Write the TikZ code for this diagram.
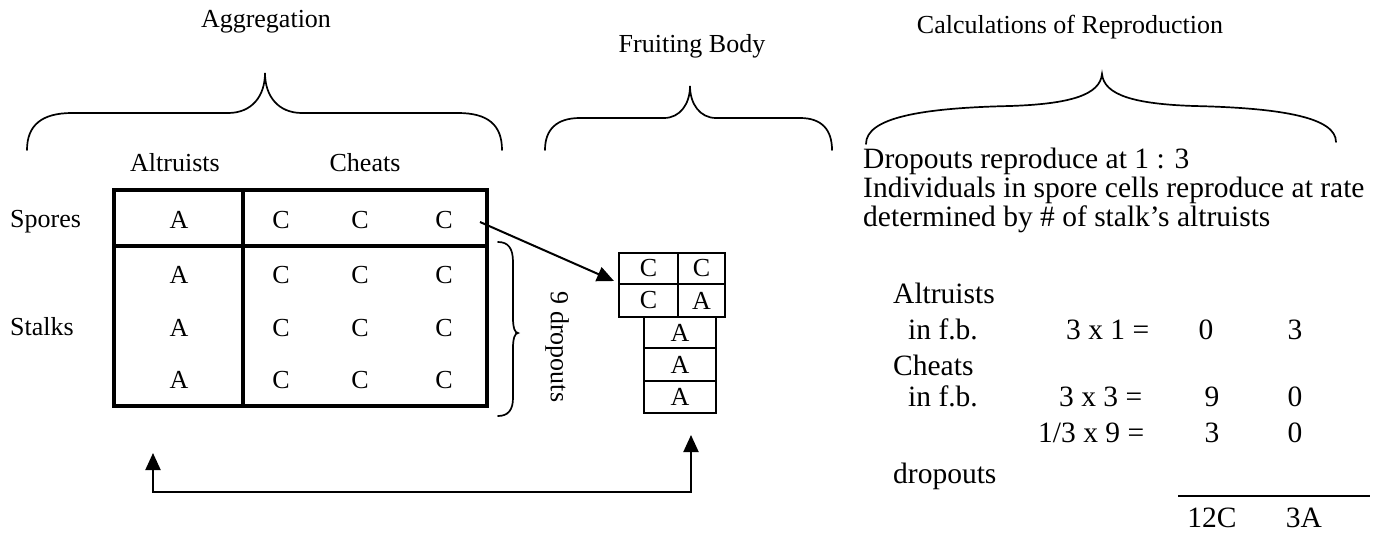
\documentclass[tikz,border=0pt]{standalone}
\usepackage{fontspec}
\setmainfont{Liberation Serif}
\usetikzlibrary{arrows.meta}
\begin{document}
\begin{tikzpicture}[x=1pt,y=-1pt,
  lbl/.style={inner sep=0pt, font=\fontsize{26}{30}\selectfont, anchor=base},
  lblw/.style={lbl, anchor=base west},
  calc/.style={inner sep=0pt, font=\fontsize{29.5}{34}\selectfont, anchor=base west},
  calcc/.style={calc, anchor=base},
  tblline/.style={line width=4pt},
  fbcell/.style={draw, line width=2.2pt, inner sep=0pt, font=\fontsize{26}{30}\selectfont},
  bracel/.style={line width=1.7pt, line cap=round},
  conn/.style={line width=2pt, -{Triangle[length=17pt,width=15pt]}},
  ret/.style={line width=2pt, {Triangle[length=17pt,width=15pt]}-{Triangle[length=17pt,width=15pt]}},
]
\useasboundingbox (0,0) rectangle (1380,533);

% titles
\node[lbl] (tAgg) at (266,27) {Aggregation};
\node[lbl] (tFB) at (692,52) {Fruiting Body};
\node[lbl] (tCalc) at (1070,33) {Calculations of Reproduction};

% braces
\draw[bracel] (27,150) .. controls (27,125) and (42,113) .. (72,113) -- (228,113)
  .. controls (252,113) and (265,96) .. (265,73)
  .. controls (265,96) and (278,113) .. (302,113) -- (458,113)
  .. controls (488,113) and (502,125) .. (502,150);
\draw[bracel] (545,150) .. controls (545,130) and (556,118) .. (580,118) -- (664,118)
  .. controls (680,118) and (690,104) .. (690,86)
  .. controls (690,104) and (700,118) .. (716,118) -- (800,118)
  .. controls (822,118) and (832,130) .. (832,150);
\draw[bracel] (866,144) .. controls (866,118) and (920,108) .. (1010,106)
  .. controls (1070,104) and (1100,95) .. (1102,74)
  .. controls (1104,95) and (1134,104) .. (1194,106)
  .. controls (1284,108) and (1336,118) .. (1336,142);

% table headers and row labels
\node[lbl] (hAlt) at (175,171) {Altruists};
\node[lbl] (hCh) at (365,171) {Cheats};
\node[lblw] (rSp) at (10,227) {Spores};
\node[lblw] (rSt) at (10,335) {Stalks};

% table
\draw[tblline] (114,190) rectangle (487,406);
\draw[tblline] (243,190) -- (243,406);
\draw[tblline] (114,246) -- (487,246);

\node[lbl] (s1) at (179,228) {A};
\node[lbl] (s2) at (281,228) {C};
\node[lbl] (s3) at (360,228) {C};
\node[lbl] (s4) at (444,228) {C};
\foreach \r/\y in {a/283,b/336,c/388}{
  \node[lbl] (k1\r) at (179,\y) {A};
  \node[lbl] (k2\r) at (281,\y) {C};
  \node[lbl] (k3\r) at (360,\y) {C};
  \node[lbl] (k4\r) at (444,\y) {C};
}

% dropouts brace
\draw[bracel] (498,242) .. controls (508,242) and (513,248) .. (513,262) -- (513,318)
  .. controls (513,328) and (515,333) .. (518,333)
  .. controls (515,333) and (513,338) .. (513,348) -- (513,398)
  .. controls (513,410) and (508,416) .. (498,416);
\node[inner sep=0pt, rotate=-90, font=\fontsize{26}{30}\selectfont] (nine) at (557,347) {9 dropouts};

% fruiting body
\node[fbcell, minimum width=59pt, minimum height=31pt] (f1) at (648.5,268.5) {C};
\node[fbcell, minimum width=47pt, minimum height=31pt] (f2) at (701.5,268.5) {C};
\node[fbcell, minimum width=59pt, minimum height=33pt] (f3) at (648.5,300.5) {C};
\node[fbcell, minimum width=47pt, minimum height=33pt] (f4) at (701.5,300.5) {A};
\node[fbcell, minimum width=72pt, minimum height=31pt] (f5) at (680,332.5) {A};
\node[fbcell, minimum width=72pt, minimum height=33pt] (f6) at (680,364.5) {A};
\node[fbcell, minimum width=72pt, minimum height=32pt] (f7) at (680,397) {A};

% arrows
\coordinate (aS) at (480,222);
\coordinate (aF) at (614,281);
\draw[conn] (aS) -- (aF);
\coordinate (retR) at (691,435);
\coordinate (retL) at (153,453);
\coordinate (retY) at (0,492);
\draw[ret] (retR) -- (retR |- retY) -- (retL |- retY) -- (retL);

% calculations
\node[calc] (c1) at (863,168) {Dropouts reproduce at 1 : 3};
\node[calc] (c2) at (863,197) {Individuals in spore cells reproduce at rate};
\node[calc] (c3) at (863,226) {determined by \# of stalk’s altruists};

\node[calc] (q1) at (893,303) {Altruists};
\node[calc] (q2) at (908,339) {in f.b.};
\node[calc] (q2e) at (1066,339) {3 x 1 =};
\node[calcc] (q2a) at (1206,339) {0};
\node[calcc] (q2b) at (1295,339) {3};
\node[calc] (q3) at (893,375) {Cheats};
\node[calc] (q4) at (908,406) {in f.b.};
\node[calc] (q4e) at (1059,406) {3 x 3 =};
\node[calcc] (q4a) at (1212,406) {9};
\node[calcc] (q4b) at (1295,406) {0};
\node[calc] (q5e) at (1038,442) {1/3 x 9 =};
\node[calcc] (q5a) at (1212,442) {3};
\node[calcc] (q5b) at (1295,442) {0};
\node[calc] (q6) at (893,483) {dropouts};
\coordinate (sumL) at (1178,496);
\coordinate (sumR) at (1370,496);
\draw[line width=2pt] (sumL) -- (sumR);
\node[calcc] (t1) at (1212,527) {12C};
\node[calcc] (t2) at (1304,527) {3A};
\end{tikzpicture}
\end{document}
